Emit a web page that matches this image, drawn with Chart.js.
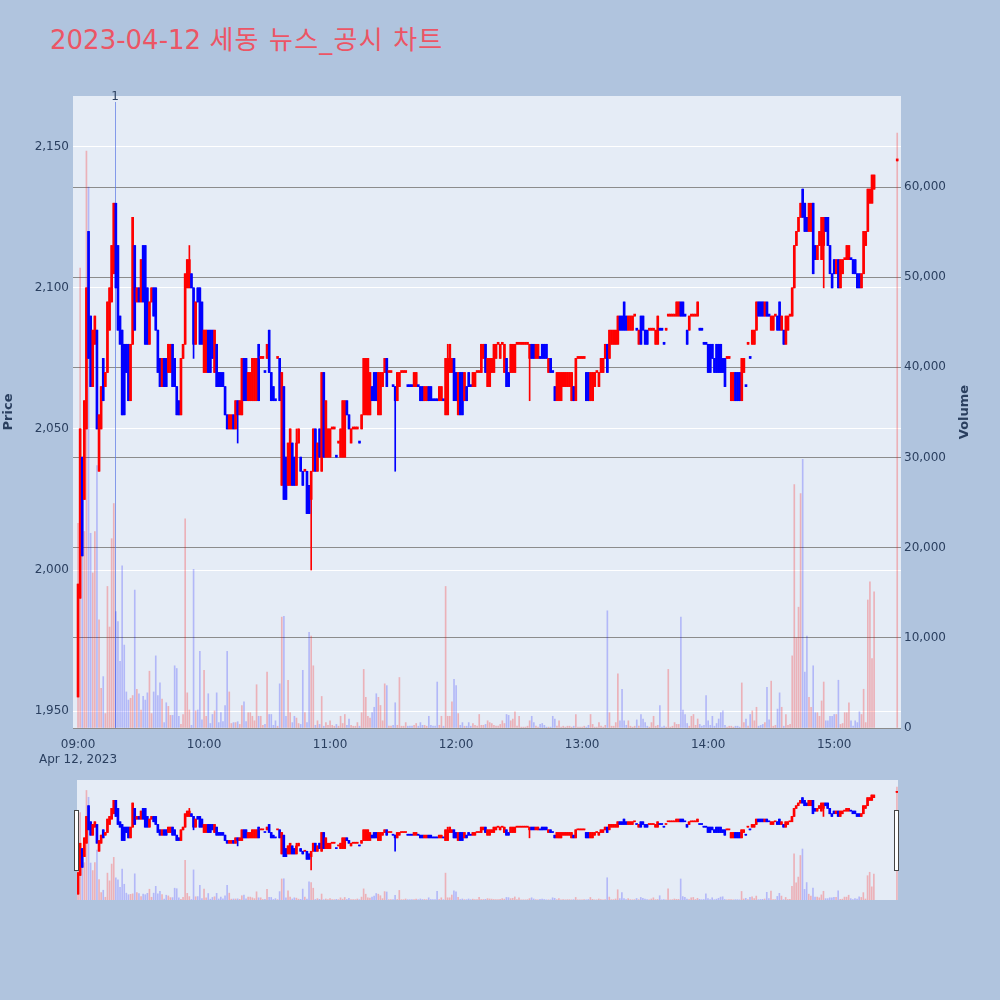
<!DOCTYPE html>
<html>
<head>
<meta charset="utf-8">
<script src="https://cdn.jsdelivr.net/npm/chart.js@4.4.1/dist/chart.umd.min.js"></script>
<style>
  body { margin: 0; width: 1000px; height: 1000px; background: #b0c4de; position: relative; overflow: hidden; }
  #title { position: absolute; left: 50px; top: 25px; font-size: 26px; line-height: 30px; color: #ec5565;
           font-family: "DejaVu Sans", "Noto Sans CJK KR", sans-serif; white-space: nowrap; }
  #title span { letter-spacing: 1.2px; }
  #main { position: absolute; left: 0; top: 0; }
  #slider { position: absolute; left: 77px; top: 780px; background: #e5ecf6; }
  .handle { position: absolute; top: 810px; width: 3px; height: 59px; background: #fff; border: 1px solid #444; }
</style>
</head>
<body>
<div id="title">2023-04-12 <span>세동 뉴스_공시 차트</span></div>
<canvas id="main" width="1000" height="770"></canvas>
<canvas id="slider" width="821" height="120"></canvas>
<div class="handle" style="left:74px"></div>
<div class="handle" style="left:894px"></div>
<script>
// one entry per minute after 09:00 (index = minute), null = no trade (15:20-15:29)
const opens = [
  1955,1990,2040,2025,2050,2120,2090,2065,2080,2085, 2035,2050,2075,2065,2070,2085,2095,2105,2130,2115,
  2090,2085,2080,2080,2080,2060,2080,2115,2095,2100, 2095,2115,2115,2100,2080,2095,2100,2100,2085,2075,
  2065,2075,2075,2070,2070,2080,2075,2065,2060,2055, 2075,2080,2100,2100,2105,2100,2080,2100,2100,2095,
  2070,2070,2085,2085,2085,2070,2080,2070,2070,2070, 2065,2055,2050,2050,2055,2050,2060,2055,2055,2075,
  2075,2060,2060,2060,2060,2060,2080,2075,2075,2070, 2075,2085,2070,2065,2060,2075,2075,2030,2065,2040,
  2030,2030,2045,2040,2030,2045,2040,2035,2035,2035, 2030,2025,2035,2050,2035,2050,2035,2070,2040,2040,
  2040,2050,2050,2040,2045,2040,2040,2040,2060,2055, 2045,2050,2050,2050,2045,2050,2055,2055,2055,2055,
  2065,2070,2070,2055,2055,2065,2070,2075,2070,2070, 2065,2065,2060,2065,2070,2070,2070,2065,2065,2065,
  2065,2065,2065,2065,2065,2060,2060,2065,2065,2060, 2060,2060,2060,2060,2060,2055,2055,2070,2070,2075,
  2070,2055,2070,2070,2060,2065,2070,2065,2065,2065, 2070,2070,2070,2075,2080,2065,2065,2070,2070,2075,
  2080,2075,2080,2070,2075,2070,2070,2070,2070,2080, 2080,2080,2080,2080,2080,2075,2080,2080,2075,2075,
  2075,2080,2080,2080,2070,2075,2070,2065,2060,2060, 2060,2065,2065,2065,2065,2060,2065,2060,2075,2075,
  2075,2075,2070,2070,2060,2060,2065,2070,2065,2070, 2070,2075,2080,2075,2080,2080,2080,2080,2090,2090,
  2095,2090,2085,2085,2085,2090,2085,2080,2090,2090, 2085,2085,2085,2085,2085,2080,2080,2085,2085,2080,
  2085,2090,2090,2090,2090,2090,2090,2095,2095,2090, 2085,2085,2090,2090,2090,2090,2085,2085,2080,2080,
  2080,2080,2080,2075,2080,2080,2080,2075,2075,2075, 2075,2060,2060,2070,2070,2070,2060,2070,2065,2080,
  2075,2080,2080,2085,2095,2095,2095,2090,2095,2090, 2085,2085,2090,2090,2095,2085,2085,2080,2085,2090,
  2090,2100,2115,2120,2125,2135,2130,2125,2120,2120, 2130,2115,2110,2115,2110,2115,2125,2125,2115,2105,
  2110,2105,2110,2100,2105,2110,2110,2110,2110,2110, 2110,2105,2105,2100,2105,2115,2120,2130,2130,2135,
  null,null,null,null,null,null,null,null,null,null, 2145
];
const closes = [
  1995,2050,2005,2060,2100,2075,2065,2085,2090,2050, 2055,2065,2060,2070,2095,2100,2115,2130,2100,2085,
  2080,2055,2055,2070,2060,2080,2125,2085,2100,2095, 2110,2095,2080,2080,2095,2100,2090,2085,2070,2065,
  2075,2065,2065,2080,2080,2065,2065,2055,2055,2075, 2080,2105,2110,2110,2100,2080,2095,2095,2080,2080,
  2085,2085,2070,2070,2075,2085,2065,2065,2065,2065, 2055,2050,2055,2055,2050,2060,2055,2060,2075,2060,
  2060,2070,2070,2075,2075,2075,2060,2075,2075,2070, 2080,2070,2060,2060,2060,2075,2060,2070,2025,2025,
  2045,2050,2030,2030,2045,2050,2035,2030,2035,2020, 2020,2035,2050,2035,2045,2040,2070,2040,2060,2050,
  2050,2050,2050,2040,2045,2050,2060,2060,2055,2050, 2050,2050,2050,2050,2045,2055,2075,2075,2075,2070,
  2060,2060,2060,2070,2070,2070,2075,2065,2070,2070, 2065,2060,2070,2070,2070,2070,2070,2065,2065,2065,
  2070,2070,2065,2060,2060,2065,2065,2060,2060,2060, 2060,2060,2065,2065,2060,2075,2075,2080,2075,2060,
  2060,2070,2055,2055,2070,2060,2065,2065,2070,2070, 2070,2070,2080,2080,2070,2075,2075,2075,2080,2080,
  2080,2080,2080,2080,2065,2065,2080,2080,2080,2080, 2080,2080,2080,2080,2080,2080,2075,2075,2080,2080,
  2075,2075,2075,2075,2075,2070,2070,2060,2070,2070, 2070,2070,2070,2070,2070,2070,2060,2075,2075,2075,
  2075,2075,2060,2060,2070,2070,2070,2070,2070,2075, 2075,2080,2070,2085,2085,2085,2085,2090,2085,2085,
  2085,2085,2090,2090,2090,2090,2085,2085,2080,2085, 2080,2080,2085,2085,2085,2085,2090,2085,2085,2080,
  2085,2090,2090,2090,2090,2095,2095,2090,2090,2090, 2080,2090,2090,2090,2090,2095,2085,2085,2080,2080,
  2070,2070,2075,2070,2070,2070,2070,2070,2065,2075, 2075,2070,2070,2060,2060,2060,2075,2075,2065,2080,
  2075,2085,2085,2095,2090,2090,2090,2095,2090,2090, 2090,2090,2090,2085,2085,2090,2080,2090,2090,2090,
  2100,2115,2120,2125,2130,2125,2120,2120,2130,2130, 2105,2110,2115,2120,2125,2125,2120,2115,2105,2100,
  2105,2110,2100,2110,2110,2110,2115,2115,2110,2105, 2105,2100,2100,2105,2120,2120,2135,2135,2140,2140,
  null,null,null,null,null,null,null,null,null,null, 2145
];
const volumes = [
  22700,51000,20000,21800,64000,60000,21600,17200,21800,29100, 12000,4400,5700,1600,15700,11200,21000,24900,12900,11800,
  7400,18000,9200,4000,3100,3300,3600,15300,4300,3800, 2000,3500,3100,3900,6300,1600,4000,8000,3600,5000,
  3200,600,2800,2400,1400,1400,6900,6600,1300,400, 1500,23200,3900,2000,300,17600,1900,2000,8500,900,
  6400,1300,3800,500,1500,1900,3900,600,1700,700, 2500,8500,4000,500,600,600,700,400,2500,2900,
  700,1700,1700,1300,800,4800,1300,1300,300,400, 6200,1500,1500,300,800,200,4900,12300,12400,1300,
  5300,1700,600,1300,1100,500,400,6400,1700,600, 10600,10200,6900,300,800,400,3500,200,600,300,
  800,300,200,400,200,1300,500,1500,300,1000, 300,200,200,600,200,1700,6500,3400,1300,1100,
  1700,2300,3800,3400,2500,800,4900,4700,200,200, 300,2800,300,5600,200,200,600,200,200,200,
  300,500,200,600,300,300,200,1300,300,200, 200,5100,300,1300,200,15700,1300,1300,2900,5400,
  4700,1600,300,600,200,200,600,200,500,300, 200,1500,300,300,400,800,600,500,300,200,
  200,400,800,500,1500,1400,800,1000,1800,200, 1300,100,100,100,200,800,1300,600,200,100,
  400,500,300,100,100,100,1300,1000,200,800, 100,200,100,200,200,100,200,1500,100,100,
  100,200,100,300,1500,400,100,100,600,200, 100,300,13000,1700,200,200,600,6000,800,4300,
  800,300,800,200,100,200,900,200,1500,1000, 600,200,100,600,1300,200,300,2500,100,200,
  100,6500,100,200,600,400,400,12300,2000,1500, 500,200,1300,1500,300,1000,400,200,300,3600,
  800,300,1300,200,500,1000,1700,1900,300,100, 200,200,100,200,200,100,5000,600,1000,200,
  1500,1900,800,2300,200,300,400,600,4500,900, 5200,200,300,2100,3900,2300,200,1500,300,400,
  8000,27000,10000,13400,26000,29800,6200,10200,3400,2300, 6900,1700,1700,1300,3000,5100,800,800,1300,1300,
  1500,1500,5300,400,500,1700,1700,2800,800,200, 800,600,1800,1500,4300,600,14200,16200,7700,15100,
  null,null,null,null,null,null,null,null,null,null, 66000
];
// [minute, low, high] where the candle has a visible shadow
const wicks = [
  [53, 2100, 2115], [55, 2075, 2100], [76, 2045, 2060], [104, 2030, 2050], [111, 2000, 2035],
  [151, 2035, 2065], [176, 2055, 2080], [215, 2060, 2080], [355, 2100, 2125]
];
const tickMinutes = [0, 60, 120, 180, 240, 300, 360];
const tickLabels = [['09:00', 'Apr 12, 2023'], '10:00', '11:00', '12:00', '13:00', '14:00', '15:00'];
const priceTicks = [1950, 2000, 2050, 2100, 2150];
const volumeTicks = [0, 10000, 20000, 30000, 40000, 50000, 60000];
const newsMarkers = [{ minute: 17.6, label: '1' }];

const UP = '#ff0000', DOWN = '#0000ff';
const UP_VOL = 'rgba(255,0,0,0.25)', DOWN_VOL = 'rgba(0,0,255,0.22)';
const TEXT = '#2a3f5f';
Chart.defaults.font.family = '"DejaVu Sans", sans-serif';

// build candle datasets
const bodies = [], shadows = [], vols = [], bodyColors = [], volColors = [];
let prevClose = null, prevUp = true;
opens.forEach((o, m) => {
  if (o == null) return;
  const c = closes[m];
  let up;
  if (c > o) up = true;
  else if (c < o) up = false;
  else if (prevClose != null && c !== prevClose) up = c > prevClose;
  else up = prevUp;
  prevUp = up; prevClose = c;
  const w = wicks.find(k => k[0] === m);
  const lo = Math.min(o, c, w ? w[1] : o), hi = Math.max(o, c, w ? w[2] : o);
  bodies.push({ x: m, y: [o, c] });
  shadows.push({ x: m, y: [lo, hi] });
  vols.push({ x: m, y: volumes[m] });
  bodyColors.push(up ? UP : DOWN);
  volColors.push(up ? UP_VOL : DOWN_VOL);
});

function makeDatasets(bodyW, minLen) {
  return [
    { label: 'Volume', data: vols, yAxisID: 'y2', backgroundColor: volColors, barThickness: 1, grouped: false, order: 3 },
    { label: 'Shadow', data: shadows, yAxisID: 'y', backgroundColor: bodyColors, barThickness: 1, grouped: false, order: 2 },
    { label: 'Price', data: bodies, yAxisID: 'y', backgroundColor: bodyColors, barThickness: bodyW, minBarLength: minLen, grouped: false, order: 1 }
  ];
}

const plotBg = {
  id: 'plotBg',
  beforeDraw(chart) {
    const { ctx, chartArea: a } = chart;
    ctx.save();
    ctx.fillStyle = '#e5ecf6';
    ctx.fillRect(a.left, a.top, a.width, a.height);
    ctx.restore();
  }
};

const newsLines = {
  id: 'newsLines',
  beforeDatasetsDraw(chart) {
    const { ctx, chartArea: a, scales } = chart;
    ctx.save();
    ctx.strokeStyle = 'rgba(90,120,230,0.7)';
    ctx.lineWidth = 1;
    newsMarkers.forEach(n => {
      const x = Math.round(scales.x.getPixelForValue(n.minute)) + 0.5;
      ctx.beginPath();
      ctx.moveTo(x, a.top + 6);
      ctx.lineTo(x, a.bottom);
      ctx.stroke();
    });
    ctx.restore();
  },
  afterDraw(chart) {
    const { ctx, chartArea: a, scales } = chart;
    ctx.save();
    ctx.fillStyle = TEXT;
    ctx.font = '12px "DejaVu Sans", sans-serif';
    ctx.textAlign = 'center';
    ctx.textBaseline = 'middle';
    newsMarkers.forEach(n => ctx.fillText(n.label, scales.x.getPixelForValue(n.minute), a.top + 1));
    // right axis title reads bottom-to-top like the left one
    ctx.font = 'bold 13px "DejaVu Sans", sans-serif';
    ctx.translate(965, (a.top + a.bottom) / 2);
    ctx.rotate(-Math.PI / 2);
    ctx.fillText('Volume', 0, 0);
    ctx.restore();
  }
};

const tickFont = { size: 12 };

new Chart(document.getElementById('main'), {
  type: 'bar',
  data: { datasets: makeDatasets(2, 2) },
  options: {
    responsive: false,
    animation: false,
    layout: { padding: { top: 96, right: 23, left: 0, bottom: 0 } },
    plugins: { legend: { display: false }, tooltip: { enabled: false } },
    scales: {
      x: {
        type: 'linear', min: -2.4, max: 391.8, offset: false,
        grid: { display: false }, border: { display: false },
        afterBuildTicks: s => { s.ticks = tickMinutes.map(v => ({ value: v })); },
        afterFit: s => { s.height = 42; },
        ticks: { color: TEXT, font: tickFont, padding: 2, maxRotation: 0, autoSkip: false,
                 callback: (v, i) => tickLabels[i] }
      },
      y: {
        position: 'left', min: 1944, max: 2168,
        grid: { color: '#ffffff', drawTicks: false }, border: { display: false },
        afterBuildTicks: s => { s.ticks = priceTicks.map(v => ({ value: v })); },
        afterFit: s => { s.width = 73; },
        ticks: { color: TEXT, font: tickFont, padding: 4 },
        title: { display: true, text: 'Price', color: TEXT, font: { size: 13, weight: 'bold' }, padding: { top: 1, bottom: 0 } }
      },
      y2: {
        position: 'right', min: 0, max: 70100,
        grid: { color: '#8c8c8c', drawTicks: false }, border: { display: false },
        afterBuildTicks: s => { s.ticks = volumeTicks.map(v => ({ value: v })); },
        afterFit: s => { s.width = 76; },
        ticks: { color: TEXT, font: tickFont, padding: 3 }
      }
    }
  },
  plugins: [plotBg, newsLines]
});

// range slider preview
new Chart(document.getElementById('slider'), {
  type: 'bar',
  data: { datasets: makeDatasets(2, 1) },
  options: {
    responsive: false,
    animation: false,
    layout: { padding: 0 },
    plugins: { legend: { display: false }, tooltip: { enabled: false } },
    scales: {
      x: { type: 'linear', min: -0.5, max: 390.5, offset: false, display: false },
      y: { min: 1944, max: 2168, display: false },
      y2: { min: 0, max: 70100, display: false }
    }
  }
});
</script>
</body>
</html>
